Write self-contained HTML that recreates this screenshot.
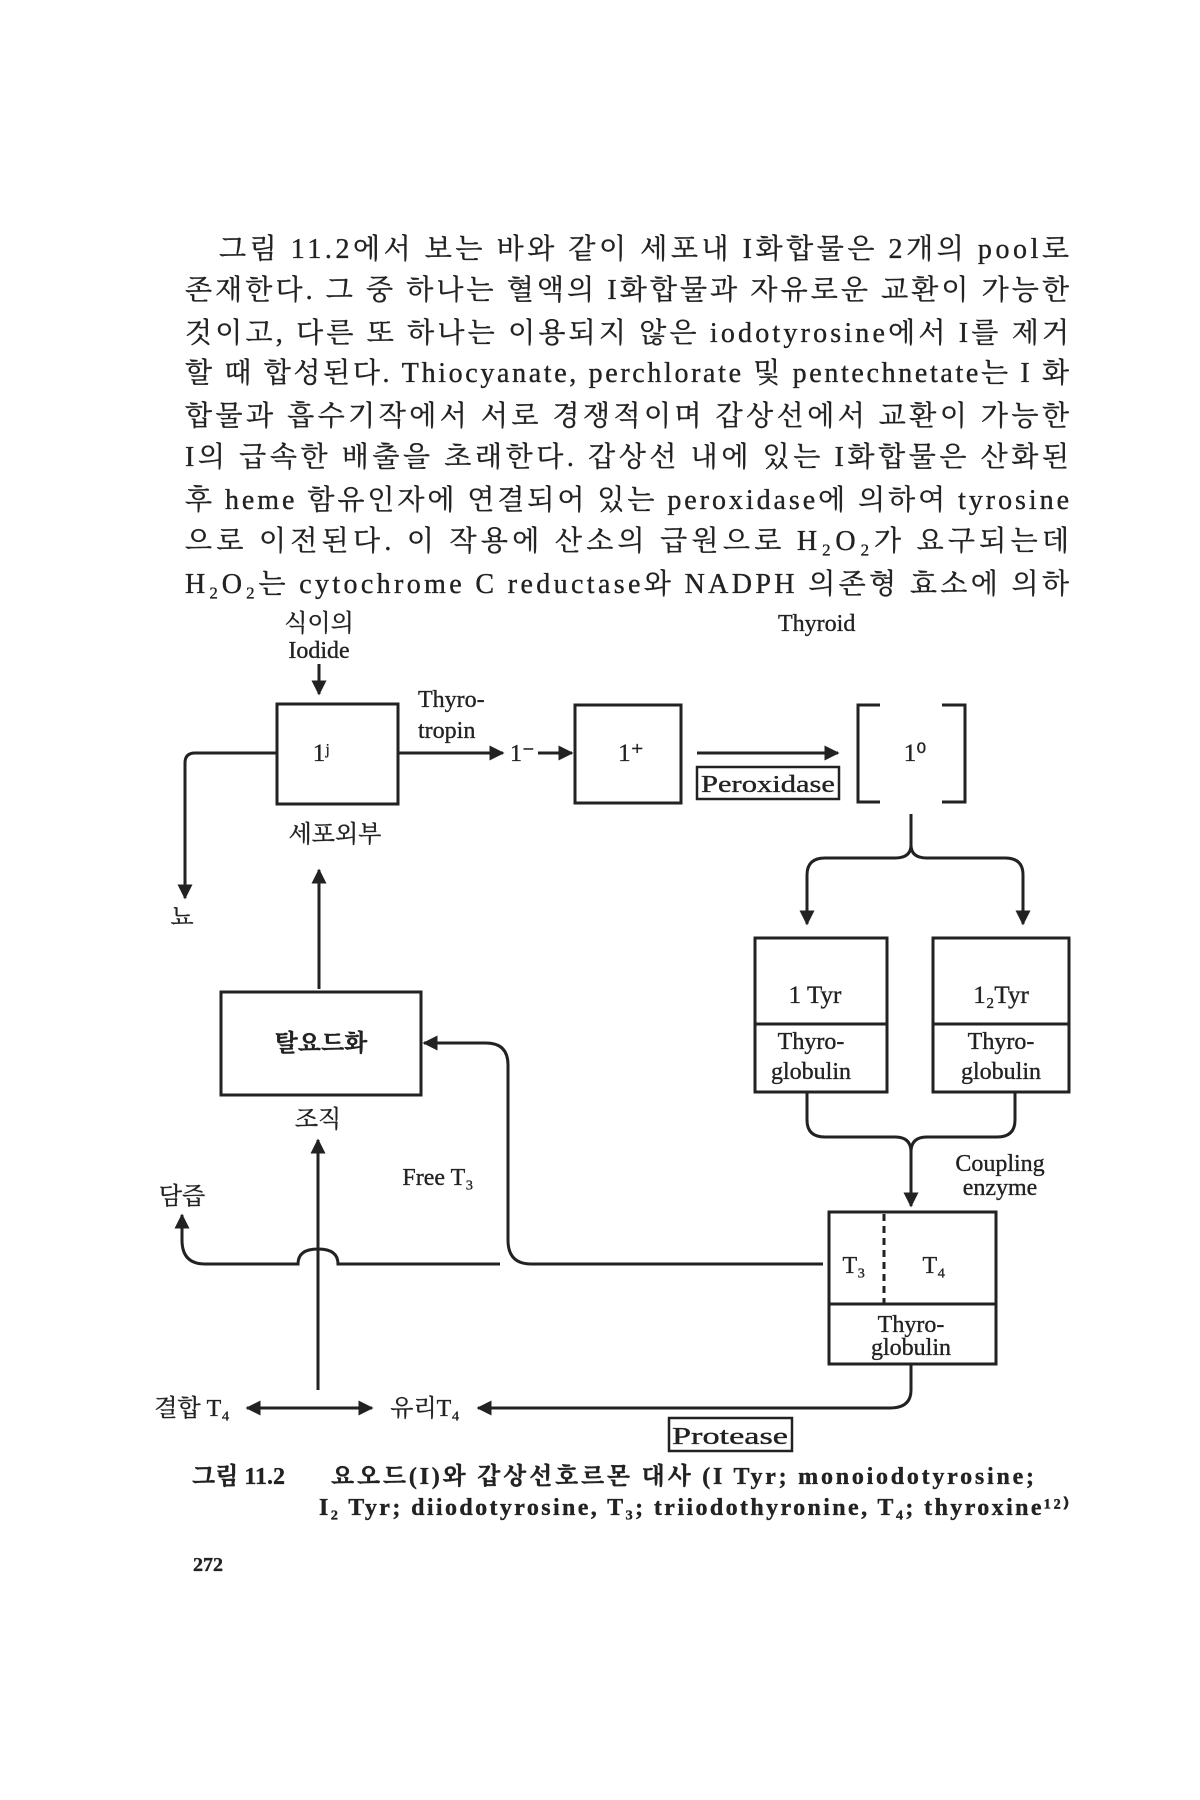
<!DOCTYPE html>
<html><head><meta charset="utf-8"><style>
html,body{margin:0;padding:0;background:#fff;}
svg{display:block;}
text{font-family:"Liberation Serif","Noto Serif CJK SC","Noto Sans CJK KR",serif;fill:#222;stroke:#222;stroke-width:0.35;}
</style></head><body>
<svg width="1200" height="1800" viewBox="0 0 1200 1800" xmlns="http://www.w3.org/2000/svg">
<defs>
<marker id="ah" viewBox="0 0 10 10" refX="9" refY="5" markerWidth="5" markerHeight="5" orient="auto"><path d="M0,0 L10,5 L0,10 z" fill="#222"/></marker>
</defs>
<rect width="1200" height="1800" fill="#fff"/>
<g font-size="28">
<text x="219" y="258" textLength="850" lengthAdjust="spacing">그림 11.2에서 보는 바와 같이 세포내 I화합물은 2개의 pool로</text>
<text x="185" y="299" textLength="884" lengthAdjust="spacing">존재한다. 그 중 하나는 혈액의 I화합물과 자유로운 교환이 가능한</text>
<text x="185" y="342" textLength="884" lengthAdjust="spacing">것이고, 다른 또 하나는 이용되지 않은 iodotyrosine에서 I를 제거</text>
<text x="185" y="382" textLength="884" lengthAdjust="spacing">할 때 합성된다. Thiocyanate, perchlorate 및 pentechnetate는 I 화</text>
<text x="185" y="425" textLength="884" lengthAdjust="spacing">합물과 흡수기작에서 서로 경쟁적이며 갑상선에서 교환이 가능한</text>
<text x="185" y="466" textLength="884" lengthAdjust="spacing">I의 급속한 배출을 초래한다. 갑상선 내에 있는 I화합물은 산화된</text>
<text x="185" y="509" textLength="884" lengthAdjust="spacing">후 heme 함유인자에 연결되어 있는 peroxidase에 의하여 tyrosine</text>
<text x="185" y="550" textLength="884" lengthAdjust="spacing">으로 이전된다. 이 작용에 산소의 급원으로 H₂O₂가 요구되는데</text>
<text x="185" y="593" textLength="884" lengthAdjust="spacing">H₂O₂는 cytochrome C reductase와 NADPH 의존형 효소에 의하</text>
</g>
<g font-size="24" stroke="#222" stroke-width="3" fill="none">
<g fill="#222">
<text x="319" y="631" text-anchor="middle">식이의</text>
<text x="319" y="658" text-anchor="middle">Iodide</text>
<text x="778" y="631">Thyroid</text>
<text x="418" y="707">Thyro-</text>
<text x="418" y="738">tropin</text>
<text x="321" y="761" text-anchor="middle" font-size="25">1ʲ</text>
<text x="510" y="761">1⁻</text>
<text x="631" y="761" text-anchor="middle" font-size="25">1⁺</text>
<text x="915" y="761" text-anchor="middle" font-size="25">1⁰</text>
<text x="768" y="792" text-anchor="middle" textLength="134" lengthAdjust="spacingAndGlyphs">Peroxidase</text>
<text x="335" y="842" text-anchor="middle">세포외부</text>
<text x="182" y="925" text-anchor="middle">뇨</text>
<text x="815" y="1003" text-anchor="middle" font-size="25">1 Tyr</text>
<text x="1001" y="1003" text-anchor="middle" font-size="25">1₂Tyr</text>
<text x="811" y="1049" text-anchor="middle">Thyro-</text>
<text x="811" y="1079" text-anchor="middle">globulin</text>
<text x="1001" y="1049" text-anchor="middle">Thyro-</text>
<text x="1001" y="1079" text-anchor="middle">globulin</text>
<text x="321" y="1051" text-anchor="middle" font-weight="bold">탈요드화</text>
<text x="318" y="1127" text-anchor="middle">조직</text>
<text x="1000" y="1171" text-anchor="middle">Coupling</text>
<text x="1000" y="1195" text-anchor="middle">enzyme</text>
<text x="438" y="1185" text-anchor="middle">Free T₃</text>
<text x="182" y="1204" text-anchor="middle">담즙</text>
<text x="854" y="1273" text-anchor="middle">T₃</text>
<text x="934" y="1273" text-anchor="middle">T₄</text>
<text x="911" y="1332" text-anchor="middle">Thyro-</text>
<text x="911" y="1355" text-anchor="middle">globulin</text>
<text x="192" y="1416" text-anchor="middle">결합 T₄</text>
<text x="425" y="1416" text-anchor="middle">유리T₄</text>
<text x="730" y="1444" text-anchor="middle" textLength="116" lengthAdjust="spacingAndGlyphs">Protease</text>
</g>
<rect x="277" y="704" width="121" height="100"/>
<rect x="575" y="705" width="106" height="98"/>
<rect x="697" y="767" width="142" height="32" stroke-width="2.5"/>
<path d="M880,705 H858 V802 H880 M942,705 H965 V802 H942"/>
<rect x="755" y="938" width="132" height="154"/>
<line x1="755" y1="1024" x2="887" y2="1024"/>
<rect x="933" y="938" width="136" height="154"/>
<line x1="933" y1="1024" x2="1069" y2="1024"/>
<rect x="221" y="992" width="200" height="103"/>
<rect x="829" y="1212" width="167" height="152"/>
<line x1="829" y1="1304" x2="996" y2="1304"/>
<line x1="884" y1="1214" x2="884" y2="1304" stroke-dasharray="7,5"/>
<rect x="669" y="1418" width="123" height="33" stroke-width="2.5"/>
<line x1="319" y1="664" x2="319" y2="694" marker-end="url(#ah)"/>
<line x1="398" y1="753" x2="503" y2="753" marker-end="url(#ah)"/>
<line x1="538" y1="753" x2="572" y2="753" marker-end="url(#ah)"/>
<line x1="697" y1="753" x2="838" y2="753" marker-end="url(#ah)"/>
<path d="M277,753 H195 Q185,753 185,763 V898" marker-end="url(#ah)"/>
<line x1="319" y1="989" x2="319" y2="870" marker-end="url(#ah)"/>
<path d="M911,814 V845 Q911,858 895,858 H825 Q807,858 807,875 V924" marker-end="url(#ah)"/>
<path d="M911,845 Q911,858 927,858 H1005 Q1023,858 1023,875 V924" marker-end="url(#ah)"/>
<path d="M807,1092 V1120 Q807,1137 825,1137 H895 Q911,1137 911,1152 V1206" marker-end="url(#ah)"/>
<path d="M1015,1092 V1120 Q1015,1137 997,1137 H927 Q911,1137 911,1152"/>
<path d="M823,1264 H531 Q508,1264 508,1240 V1065 Q508,1043 486,1043 H424" marker-end="url(#ah)"/>
<line x1="318" y1="1390" x2="318" y2="1140" marker-end="url(#ah)"/>
<path d="M500,1264 H338 Q338,1249 318,1249 Q298,1249 298,1264 H205 Q182,1264 182,1240 V1215" marker-end="url(#ah)"/>
<line x1="300" y1="1408" x2="372" y2="1408" marker-end="url(#ah)"/>
<line x1="300" y1="1408" x2="247" y2="1408" marker-end="url(#ah)"/>
<path d="M911,1364 V1390 Q911,1408 890,1408 H478" marker-end="url(#ah)"/>
</g>
<g font-size="24" font-weight="bold">
<text x="192" y="1484">그림 11.2</text>
<text x="331" y="1484" textLength="703" lengthAdjust="spacing">요오드(I)와 갑상선호르몬 대사 (I Tyr; monoiodotyrosine;</text>
<text x="319" y="1515" textLength="750" lengthAdjust="spacing">I₂ Tyr; diiodotyrosine, T₃; triiodothyronine, T₄; thyroxine¹²⁾</text>
<text x="193" y="1571" font-size="20">272</text>
</g>
</svg>
</body></html>
